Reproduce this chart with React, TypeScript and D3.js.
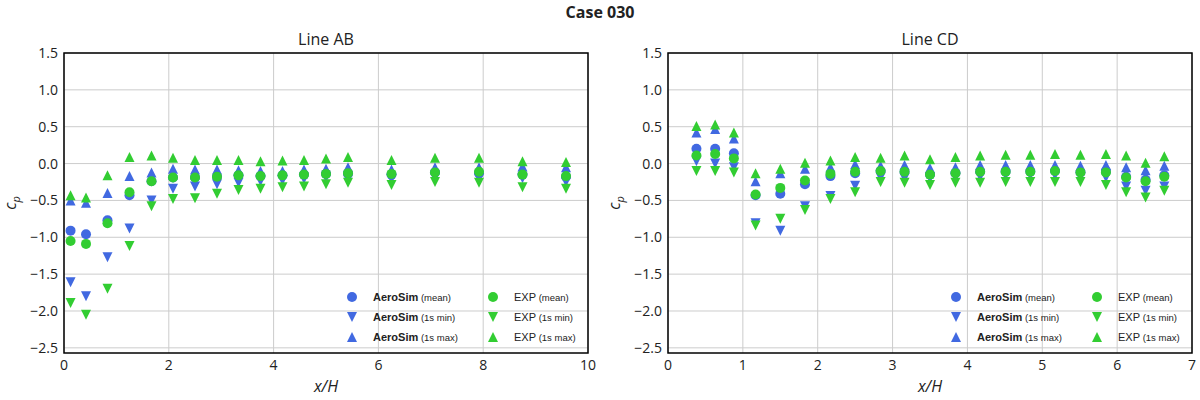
import React from "react";
import * as d3 from "d3";

const abX = [0.125, 0.42, 0.83, 1.25, 1.67, 2.08, 2.5, 2.92, 3.33, 3.75, 4.17, 4.58, 5.0, 5.42, 6.25, 7.08, 7.92, 8.75, 9.58];
const abSimMean = [-0.91, -0.96, -0.77, -0.43, -0.24, -0.19, -0.19, -0.18, -0.16, -0.17, -0.16, -0.15, -0.14, -0.14, -0.15, -0.12, -0.13, -0.15, -0.18];
const abExpMean = [-1.05, -1.09, -0.81, -0.39, -0.24, -0.19, -0.19, -0.18, -0.16, -0.17, -0.16, -0.15, -0.14, -0.13, -0.14, -0.12, -0.11, -0.15, -0.17];
const abSimMin = [-1.61, -1.8, -1.27, -0.88, -0.5, -0.34, -0.31, -0.28, -0.26, -0.24, -0.23, -0.21, -0.19, -0.19, -0.21, -0.19, -0.2, -0.2, -0.25];
const abExpMin = [-1.89, -2.05, -1.7, -1.12, -0.58, -0.48, -0.47, -0.41, -0.36, -0.34, -0.32, -0.31, -0.28, -0.26, -0.29, -0.25, -0.26, -0.32, -0.34];
const abSimMax = [-0.5, -0.53, -0.4, -0.17, -0.12, -0.07, -0.08, -0.08, -0.09, -0.1, -0.1, -0.08, -0.07, -0.05, -0.08, -0.05, -0.05, -0.04, -0.05];
const abExpMax = [-0.43, -0.46, -0.16, 0.09, 0.11, 0.08, 0.05, 0.05, 0.05, 0.03, 0.04, 0.05, 0.07, 0.09, 0.05, 0.08, 0.08, 0.03, 0.02];

const cdX = [0.38, 0.63, 0.88, 1.17, 1.5, 1.83, 2.17, 2.5, 2.84, 3.16, 3.5, 3.84, 4.17, 4.51, 4.84, 5.17, 5.51, 5.85, 6.12, 6.38, 6.63];
const cdSimMean = [0.2, 0.2, 0.14, -0.43, -0.41, -0.28, -0.17, -0.13, -0.1, -0.11, -0.15, -0.13, -0.11, -0.11, -0.11, -0.1, -0.12, -0.1, -0.18, -0.22, -0.16];
const cdExpMean = [0.11, 0.13, 0.07, -0.42, -0.33, -0.23, -0.14, -0.11, -0.1, -0.11, -0.15, -0.13, -0.11, -0.11, -0.11, -0.1, -0.12, -0.12, -0.19, -0.24, -0.18];
const cdSimMin = [0.03, 0.0, -0.05, -0.81, -0.91, -0.58, -0.44, -0.3, -0.19, -0.2, -0.2, -0.19, -0.18, -0.16, -0.16, -0.16, -0.18, -0.19, -0.31, -0.37, -0.31];
const cdExpMin = [-0.1, -0.1, -0.12, -0.84, -0.75, -0.63, -0.48, -0.39, -0.25, -0.26, -0.29, -0.26, -0.26, -0.25, -0.25, -0.25, -0.25, -0.29, -0.39, -0.46, -0.37];
const cdSimMax = [0.42, 0.47, 0.34, -0.24, -0.13, -0.07, -0.05, -0.01, -0.03, -0.02, -0.06, -0.05, -0.02, -0.02, -0.02, -0.02, -0.03, -0.02, -0.05, -0.09, -0.03];
const cdExpMax = [0.51, 0.53, 0.42, -0.13, -0.07, 0.01, 0.04, 0.09, 0.08, 0.11, 0.06, 0.09, 0.11, 0.12, 0.12, 0.13, 0.12, 0.13, 0.11, 0.01, 0.1];

const yTicks = [1.5, 1.0, 0.5, 0.0, -0.5, -1.0, -1.5, -2.0, -2.5];
const abXTicks = [0, 2, 4, 6, 8, 10];
const cdXTicks = [0, 1, 2, 3, 4, 5, 6, 7];

const BLUE = "#4169e1";
const GREEN = "#32cd32";
const FONT = "'Open Sans', 'Noto Sans', sans-serif";
const LFONT = "'Liberation Sans', Arial, sans-serif";

type Shape = "o" | "v" | "^";

function Marker({ x, y, shape, color }: { x: number; y: number; shape: Shape; color: string }) {
  const s = 5;
  if (shape === "o") return <circle cx={x} cy={y} r={5} fill={color} />;
  const d =
    shape === "^"
      ? `M${x},${y - s}L${x + s},${y + s}L${x - s},${y + s}Z`
      : `M${x},${y + s}L${x + s},${y - s}L${x - s},${y - s}Z`;
  return <path d={d} fill={color} />;
}

function Panel({
  left, right, title, xs, xMax, xTicks, series,
}: {
  left: number; right: number; title: string; xs: number[]; xMax: number; xTicks: number[];
  series: { vals: number[]; shape: Shape; color: string }[];
}) {
  const top = 53, bottom = 353;
  const x = d3.scaleLinear().domain([0, xMax]).range([left, right]);
  const y = d3.scaleLinear().domain([-2.57, 1.5]).range([bottom, top]);
  const legendRows: { shape: Shape; label: string }[] = [
    { shape: "o", label: "(mean)" },
    { shape: "v", label: "(1s min)" },
    { shape: "^", label: "(1s max)" },
  ];
  const lx = right - 236;
  const rowY = [297, 317, 337];
  return (
    <g>
      {xTicks.map((t) => (
        <line key={"gx" + t} x1={x(t)} x2={x(t)} y1={top} y2={bottom} stroke="#cccccc" strokeWidth={1} />
      ))}
      {yTicks.map((t) => (
        <line key={"gy" + t} x1={left} x2={right} y1={y(t)} y2={y(t)} stroke="#cccccc" strokeWidth={1} />
      ))}
      {series.map((s, si) => (
        <g key={si}>
          {s.vals.map((v, i) => (
            <Marker key={i} x={x(xs[i])} y={y(v)} shape={s.shape} color={s.color} />
          ))}
        </g>
      ))}
      {legendRows.map((r, i) => (
        <g key={"lg" + i}>
          <Marker x={lx} y={rowY[i]} shape={r.shape} color={BLUE} />
          <text x={lx + 21} y={rowY[i] + 4} fontFamily={LFONT} fontSize={11} fill="#222">
            <tspan fontWeight="bold">AeroSim</tspan>
            <tspan fontSize={9.5}> {r.label}</tspan>
          </text>
          <Marker x={lx + 141} y={rowY[i]} shape={r.shape} color={GREEN} />
          <text x={lx + 162} y={rowY[i] + 4} fontFamily={LFONT} fontSize={11} fill="#222">
            <tspan>EXP</tspan>
            <tspan fontSize={9.5}> {r.label}</tspan>
          </text>
        </g>
      ))}
      <rect x={left} y={top} width={right - left} height={bottom - top} fill="none" stroke="#000" strokeWidth={1.5} />
      {xTicks.map((t) => (
        <text key={"xt" + t} x={x(t)} y={bottom + 17} textAnchor="middle" fontFamily={FONT} fontSize={14} fill="#222">
          {t}
        </text>
      ))}
      {yTicks.map((t) => (
        <text key={"yt" + t} x={left - 6} y={y(t) + 5} textAnchor="end" fontFamily={FONT} fontSize={14} fill="#222">
          {t < 0 ? "\u2212" + Math.abs(t).toFixed(1) : t.toFixed(1)}
        </text>
      ))}
      <text x={(left + right) / 2} y={45} textAnchor="middle" fontFamily={FONT} fontSize={16} fill="#222">
        {title}
      </text>
      <text x={(left + right) / 2} y={392} textAnchor="middle" fontFamily={FONT} fontSize={16} fontStyle="italic" fill="#222">
        x/H
      </text>
      <text transform={`translate(${left - 48},${(top + bottom) / 2}) rotate(-90)`} textAnchor="middle" fontFamily={FONT} fontSize={16} fontStyle="italic" fill="#222">
        c<tspan fontSize={11} dy={4}>p</tspan>
      </text>
    </g>
  );
}

export default function App() {
  const abSeries = [
    { vals: abSimMean, shape: "o" as Shape, color: BLUE },
    { vals: abSimMin, shape: "v" as Shape, color: BLUE },
    { vals: abSimMax, shape: "^" as Shape, color: BLUE },
    { vals: abExpMean, shape: "o" as Shape, color: GREEN },
    { vals: abExpMin, shape: "v" as Shape, color: GREEN },
    { vals: abExpMax, shape: "^" as Shape, color: GREEN },
  ];
  const cdSeries = [
    { vals: cdSimMean, shape: "o" as Shape, color: BLUE },
    { vals: cdSimMin, shape: "v" as Shape, color: BLUE },
    { vals: cdSimMax, shape: "^" as Shape, color: BLUE },
    { vals: cdExpMean, shape: "o" as Shape, color: GREEN },
    { vals: cdExpMin, shape: "v" as Shape, color: GREEN },
    { vals: cdExpMax, shape: "^" as Shape, color: GREEN },
  ];
  return (
    <svg width={1200} height={400} style={{ position: "absolute", left: 0, top: 0, background: "#fff" }}>
      <rect width={1200} height={400} fill="#fff" />
      <text x={600} y={18} textAnchor="middle" fontFamily={FONT} fontSize={16} fontWeight="bold" fill="#222">
        Case 030
      </text>
      <Panel left={64} right={588} title="Line AB" xs={abX} xMax={10} xTicks={abXTicks} series={abSeries} />
      <Panel left={668} right={1192} title="Line CD" xs={cdX} xMax={7} xTicks={cdXTicks} series={cdSeries} />
    </svg>
  );
}
